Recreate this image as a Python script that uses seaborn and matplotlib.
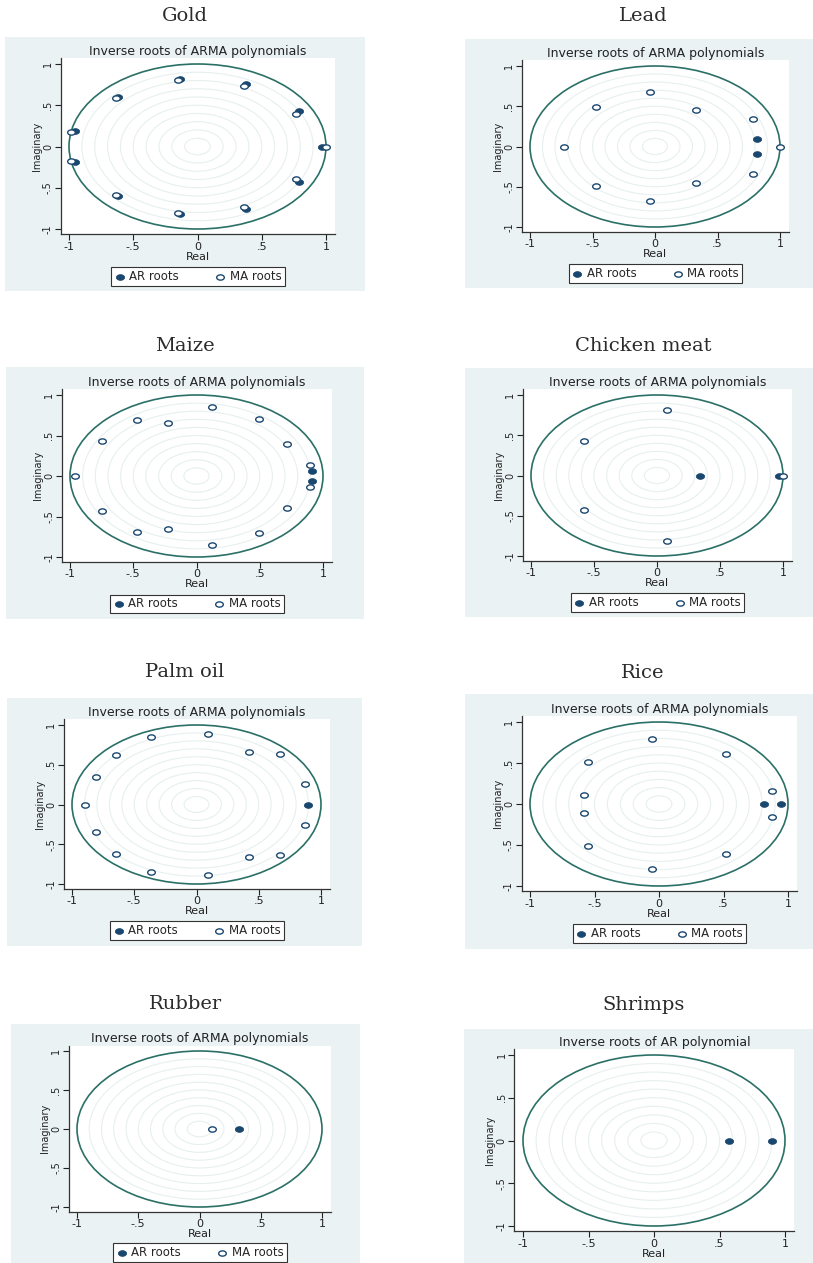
import numpy as np
import matplotlib
matplotlib.use('Agg')
import matplotlib.pyplot as plt
from matplotlib.patches import Circle, Rectangle
from matplotlib.path import Path
import seaborn as sns

# inverse roots (real, imaginary)
gold_ar_re = [-0.137, 0.378, 0.792, 0.969, 0.792, 0.378, -0.137, -0.618, -0.956, -0.956, -0.618]
gold_ar_im = [0.821, 0.757, 0.432, 0.0, -0.432, -0.757, -0.821, -0.606, -0.189, 0.189, 0.606]
gold_ma_re = [-0.150, 0.358, 0.766, 1.000, 0.766, 0.358, -0.150, -0.633, -0.982, -0.982, -0.633]
gold_ma_im = [0.800, 0.736, 0.396, 0.0, -0.396, -0.736, -0.800, -0.584, -0.180, 0.180, 0.584]

lead_ar_re = [0.813, 0.813]
lead_ar_im = [0.097, -0.097]
lead_ma_re = [-0.040, 0.328, 0.787, 1.000, 0.787, 0.328, -0.040, -0.469, -0.731, -0.469]
lead_ma_im = [0.676, 0.456, 0.340, 0.0, -0.340, -0.456, -0.676, -0.485, 0.0, 0.485]

maize_ar_re = [0.916, 0.916]
maize_ar_im = [0.061, -0.061]
maize_ma_re = [0.124, 0.495, 0.713, 0.897, 0.897, 0.713, 0.495, 0.124,
               -0.224, -0.468, -0.747, -0.958, -0.747, -0.468, -0.224]
maize_ma_im = [0.857, 0.703, 0.389, 0.139, -0.139, -0.389, -0.703, -0.857,
               -0.658, -0.693, -0.426, 0.0, 0.426, 0.693, 0.658]

chicken_ar_re = [0.340, 0.965]
chicken_ar_im = [0.0, 0.0]
chicken_ma_re = [0.083, -0.582, -0.582, 0.083, 1.000]
chicken_ma_im = [0.818, 0.424, -0.424, -0.818, 0.0]

palm_ar_re = [0.898]
palm_ar_im = [0.0]
palm_ma_re = [0.090, 0.422, 0.671, 0.869, 0.869, 0.671, 0.422, 0.090,
              -0.363, -0.644, -0.807, -0.893, -0.807, -0.644, -0.363]
palm_ma_im = [0.881, 0.659, 0.638, 0.253, -0.253, -0.638, -0.659, -0.881,
              -0.851, -0.617, -0.341, 0.0, 0.341, 0.617, 0.851]

rice_ar_re = [0.816, 0.948]
rice_ar_im = [0.0, 0.0]
rice_ma_re = [-0.054, 0.518, 0.873, 0.873, 0.518, -0.054, -0.554, -0.583, -0.583, -0.554]
rice_ma_im = [0.787, 0.606, 0.156, -0.156, -0.606, -0.787, -0.518, -0.108, 0.108, 0.518]

rubber_ar_re = [0.323]
rubber_ar_im = [0.0]
rubber_ma_re = [0.102]
rubber_ma_im = [0.0]

shrimps_ar_re = [0.572, 0.898]
shrimps_ar_im = [0.0, 0.0]
shrimps_ma_re = []
shrimps_ma_im = []

commodities = ['Gold', 'Lead', 'Maize', 'Chicken meat', 'Palm oil', 'Rice', 'Rubber', 'Shrimps']
plot_titles = ['Inverse roots of ARMA polynomials'] * 7 + ['Inverse roots of AR polynomial']
tick_values = [-1, -0.5, 0, 0.5, 1]
tick_labels = ['-1', '-.5', '0', '.5', '1']

roots = {
    'Gold': (gold_ar_re, gold_ar_im, gold_ma_re, gold_ma_im),
    'Lead': (lead_ar_re, lead_ar_im, lead_ma_re, lead_ma_im),
    'Maize': (maize_ar_re, maize_ar_im, maize_ma_re, maize_ma_im),
    'Chicken meat': (chicken_ar_re, chicken_ar_im, chicken_ma_re, chicken_ma_im),
    'Palm oil': (palm_ar_re, palm_ar_im, palm_ma_re, palm_ma_im),
    'Rice': (rice_ar_re, rice_ar_im, rice_ma_re, rice_ma_im),
    'Rubber': (rubber_ar_re, rubber_ar_im, rubber_ma_re, rubber_ma_im),
    'Shrimps': (shrimps_ar_re, shrimps_ar_im, shrimps_ma_re, shrimps_ma_im),
}

# layout in pixels: grey box, where -1/+1 fall on x and y, centre of the panel title
layout = {
    'Gold':         dict(box=(5, 37, 365, 291),     xs=(69, 326),    ys=(64, 229),     title=(185, 16)),
    'Lead':         dict(box=(465, 39, 813, 288),   xs=(530, 780),   ys=(66, 227),     title=(643, 16)),
    'Maize':        dict(box=(6, 367, 364, 619),    xs=(70, 323),    ys=(395, 557),    title=(185, 346)),
    'Chicken meat': dict(box=(465, 368, 813, 617),  xs=(531, 783),   ys=(395, 556),    title=(643, 346)),
    'Palm oil':     dict(box=(7, 698, 362, 946),    xs=(72, 321),    ys=(725, 884),    title=(185, 672)),
    'Rice':         dict(box=(465, 694, 813, 949),  xs=(530, 788),   ys=(722, 886),    title=(643, 673)),
    'Rubber':       dict(box=(11, 1024, 360, 1263), xs=(77, 322),    ys=(1051, 1207),  title=(185, 1004)),
    'Shrimps':      dict(box=(464, 1029, 813, 1263), xs=(523, 785),  ys=(1055, 1226),  title=(644, 1005)),
}

BG = '#eaf2f3'
GRID = '#e7efef'
UNIT = '#2b7066'
NAVY = '#1a476f'
XLIM = (-1.065, 1.07)
YLIM = (-1.06, 1.07)

sns.set_theme(style='white')
plt.rcParams['font.family'] = ['DejaVu Sans']

theta = np.linspace(0, 2 * np.pi, 60)
oval = Path(np.column_stack([1.45 * np.cos(theta), np.sin(theta)]), closed=True)

W, H = 813, 1263
fig = plt.figure(figsize=(W / 100, H / 100), dpi=100)
fig.patch.set_facecolor('white')

for name, ptitle in zip(commodities, plot_titles):
    lay = layout[name]
    bx0, by0, bx1, by1 = lay['box']
    fig.add_artist(Rectangle((bx0 / W, 1 - by1 / H), (bx1 - bx0) / W, (by1 - by0) / H,
                             transform=fig.transFigure, facecolor=BG, edgecolor='none', zorder=0))

    xm1, xp1 = lay['xs']
    yp1, ym1 = lay['ys']
    sx = (xp1 - xm1) / 2
    sy = (ym1 - yp1) / 2
    left = xm1 + (XLIM[0] + 1) * sx
    right = xp1 + (XLIM[1] - 1) * sx
    top = yp1 - (YLIM[1] - 1) * sy
    bottom = ym1 + (-1 - YLIM[0]) * sy
    ax = fig.add_axes([left / W, 1 - bottom / H, (right - left) / W, (bottom - top) / H])
    ax.set_facecolor('white')

    for r in np.arange(0.1, 0.95, 0.1):
        ax.add_patch(Circle((0, 0), r, fill=False, edgecolor=GRID, linewidth=0.8, zorder=1))
    ax.add_patch(Circle((0, 0), 1, fill=False, edgecolor=UNIT, linewidth=1.2, zorder=2))

    ar_re, ar_im, ma_re, ma_im = roots[name]
    sns.scatterplot(x=ar_re, y=ar_im, ax=ax, marker=oval, s=36, color=NAVY,
                    edgecolor=NAVY, linewidth=0.5, label='AR roots', zorder=3)
    if len(ma_re):
        sns.scatterplot(x=ma_re, y=ma_im, ax=ax, marker=oval, s=30, color='white',
                        edgecolor=NAVY, linewidth=1.0, label='MA roots', zorder=4)
        leg = ax.legend(loc='upper center', bbox_to_anchor=(0.5, -0.155), ncol=2,
                        frameon=True, fancybox=False, framealpha=1, edgecolor='#333333',
                        fontsize=8.5, handletextpad=0.3, columnspacing=3.0,
                        borderpad=0.25, handlelength=1.0)
        leg.get_frame().set_linewidth(0.8)
    elif ax.get_legend() is not None:
        ax.get_legend().remove()

    ax.set_xlim(*XLIM)
    ax.set_ylim(*YLIM)
    ax.set_xticks(tick_values, tick_labels, fontsize=8)
    ax.set_yticks(tick_values, tick_labels, fontsize=7, rotation=90, va='center')
    ax.tick_params(length=4, width=0.8, pad=1.5, colors='#222222', left=True, bottom=True)
    for side in ['top', 'right']:
        ax.spines[side].set_visible(False)
    for side in ['left', 'bottom']:
        ax.spines[side].set_color('#333333')
        ax.spines[side].set_linewidth(0.9)
    ax.set_xlabel('Real', fontsize=8, labelpad=0, color='#222222')
    ax.set_ylabel('Imaginary', fontsize=7, labelpad=1, color='#222222')
    ax.set_title(ptitle, fontsize=9, pad=2.5, color='#222222')

    tx, ty = lay['title']
    fig.text(tx / W, 1 - ty / H, name, ha='center', va='center',
             family='DejaVu Serif', fontsize=14, color='#2b2b2b')

fig.savefig('out.png', dpi=100)
